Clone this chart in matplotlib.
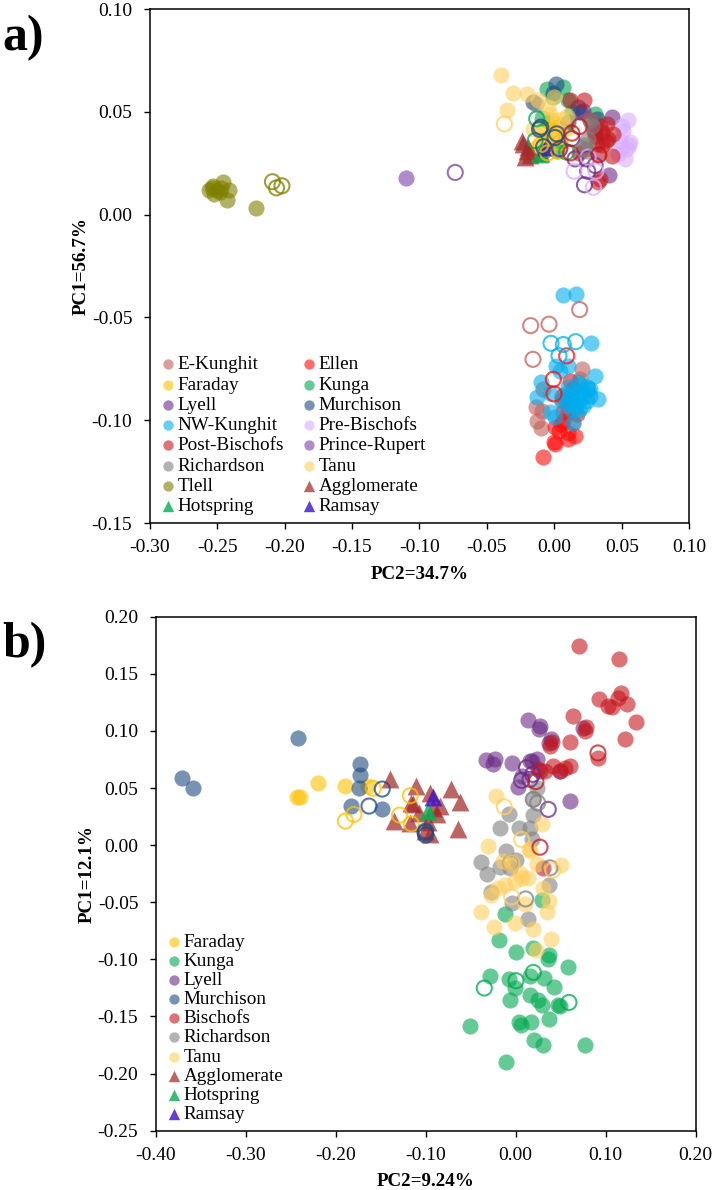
import matplotlib
matplotlib.use("Agg")
import matplotlib.pyplot as plt

plt.rcParams['font.family'] = ['Liberation Serif', 'DejaVu Sans']

# ---------- Panel a: (PC2, PC1) values, filled then open ----------
a_ekunghit = [(-.0137,-.0937),(-.0095,-.0953),(-.0132,-.1002),(-.0102,-.1039),(.0202,-.0751),(.0190,-.0799),(-.0082,-.0848),(.0140,-.1015),(.0100,-.0960),(.0060,-.0900)]
a_ekunghit_o = [(.0187,-.0462),(-.0176,-.0540),(-.0040,-.0533),(-.0159,-.0704)]
a_ellen = [(-.0082,-.1177),(.0003,-.1115),(-.0005,-.1105),(.0103,-.1091),(.0153,-.1075),(.0037,-.1051),(.0004,-.1034),(.0066,-.1002),(.0165,-.0970),(.0116,-.0807),(.0066,-.0961),(.0120,-.0900),(.0060,-.0880),(.0050,-.1020),(.0100,-.1060),(.0140,-.0850)]
a_ellen_o = [(.0091,-.0687),(-.0008,-.0801),(-.0003,-.0872)]
a_faraday = [(-.0040,.0450),(.0000,.0430),(-.0100,.0400),(.0030,.0380),(-.0060,.0370),(-.0130,.0330),(.0050,.0340),(.0090,.0420),(-.0020,.0460),(.0040,.0440)]
a_faraday_o = [(-.0100,.0340),(-.0050,.0300),(.0030,.0310),(.0040,.0350),(-.0020,.0380)]
a_kunga = [(-.0057,.0612),(.0067,.0620),(-.0007,.0571),(.0104,.0555),(.0302,.0490),(.0130,.0500),(-.0090,.0470),(-.0080,.0310),(.0020,.0310)]
a_kunga_o = [(-.0131,.0466),(-.0143,.0360),(.0091,.0304)]
a_lyell = [(.0425,.0474),(.0408,.0193),(.0215,.0503),(.0190,.0500),(.0300,.0400)]
a_lyell_o = [(.0223,.0145),(.0247,.0211),(.0153,.0271),(.0302,.0239),(.0240,.0271),(.0130,.0370),(.0040,.0320)]
a_murchison = [(.0010,.0636),(-.0156,.0547),(.0178,.0522),(.0314,.0466),(-.0010,.0590),(.0100,.0450)]
a_murchison_o = [(-.0101,.0425),(-.0110,.0415),(.0017,.0393),(.0005,.0375),(-.0080,.0330)]
a_nwkunghit = [(.0061,-.0389),(.0160,-.0386),(.0269,-.0623),(.0301,-.0786),(.0326,-.0897),(-.0102,-.0815),(-.0127,-.0888),(.0012,-.0734),(.0103,-.0734),(.0177,-.0815),(.0252,-.0848),(.0264,-.0880),(.0116,-.0888),(.0165,-.0913),(.0215,-.0929),(.0140,-.0856),(.0190,-.0872),(.0091,-.0921),(.0004,-.0986),(-.0033,-.0961),(.0140,-.1015),(.0215,-.0888),(.0153,-.0937),(.0079,-.0872),(.0239,-.0905),(.0264,-.0848),(.0040,-.0760),(-.0030,-.0870),(.0200,-.0830),(.0130,-.0950),(.0240,-.0840),(.0170,-.0890),(.0100,-.0840),(.0060,-.0910),(.0180,-.0950)]
a_nwkunghit_o = [(-.0025,-.0626),(.0066,-.0632),(.0158,-.0618),(.0034,-.0686)]
a_postbischofs = [(.0116,.0558),(.0222,.0555),(.0339,.0433),(.0388,.0441),(.0438,.0393),(.0401,.0368),(.0314,.0344),(.0425,.0287),(.0290,.0409),(.0326,.0295),(.0265,.0458),(.0339,.0174),(.0325,.0160),(.0180,.0300),(.0300,.0380),(.0350,.0340),(.0230,.0320),(.0350,.0400),(.0380,.0360)]
a_postbischofs_o = [(.0185,.0428),(.0130,.0396),(.0120,.0300),(.0330,.0290)]
a_prebischofs = [(.0549,.0458),(.0561,.0352),(.0512,.0409),(.0475,.0295),(.0524,.0271),(.0487,.0360),(.0537,.0320),(.0500,.0430),(.0550,.0340),(.0500,.0330)]
a_prebischofs_o = [(.0146,.0211),(.0289,.0133),(.0307,.0211),(.0250,.0280)]
a_princerupert = [(-.110,.018)]
a_princerupert_o = [(-.0735,.0205)]
a_richardson = [(.0265,.0458),(.0252,.0368),(.0220,.0340),(.0280,.0430),(-.0140,.0540),(.0240,.0310)]
a_richardson_o = [(.0210,.0320)]
a_tanu = [(-.0398,.0681),(-.0309,.0592),(-.0205,.0587),(-.0354,.0509),(-.0119,.0555),(-.0044,.0522),(.0090,.0482),(.0054,.0466),(-.0032,.0490),(-.0156,.0417),(.0042,.0409),(.0000,.0570)]
a_tanu_o = [(-.0371,.0441)]
a_tlell = [(-.256,.012),(-.254,.013),(-.252,.010),(-.250,.012),(-.248,.011),(-.246,.016),(-.243,.007),(-.241,.012),(-.221,.003),(-.253,.014),(-.247,.013)]
a_tlell_o = [(-.209,.016),(-.206,.013),(-.202,.014)]
a_agglomerate = [(-.0242,.0360),(-.0235,.0345),(-.0193,.0328),(-.0218,.0282),(-.0180,.0290),(-.0205,.0310),(-.0100,.0300)]
a_hotspring = [(-.0106,.0295)]
a_ramsay = [(-.0060,.0330)]

# ---------- Panel b ----------
b_faraday = [(-.2429,.042),(-.2399,.042),(-.2197,.054),(-.1893,.0515),(-.1638,.0518)]
b_faraday_o = [(-.1583,.0497),(-.1798,.0269),(-.1893,.0211),(-.1171,.0433),(-.1290,.0263),(-.1160,.0187)]
b_kunga = [(-.0116,-.0602),(-.0182,-.0833),(.0003,-.0936),(.0196,-.0900),(.0370,-.0965),(.0362,-.0997),(.0584,-.1067),(-.0282,-.1149),(-.0071,-.1169),(-.0008,-.1251),(.0159,-.1149),(.0318,-.1164),(.0429,-.1242),(.0159,-.1310),(-.0060,-.1354),(.0251,-.1354),(.0288,-.1403),(.0473,-.1397),(.0492,-.1412),(.0374,-.1520),(.0166,-.1544),(.0041,-.1552),(.0059,-.1573),(-.0508,-.1579),(.0296,-.0476),(-.0108,-.1895),(.0203,-.171),(.0303,-.1754),(.0770,-.1754)]
b_kunga_o = [(-.0349,-.1251),(.0003,-.1187),(.0196,-.1114),(.0592,-.1377)]
b_lyell = [(-.0331,.0746),(-.0231,.0751),(-.0256,.0713),(-.0042,.0722),(.0259,.1015),(.0028,.0509),(.0177,.0737),(.0232,.0751),(.0136,.1096),(.0270,.104),(.0370,.0895),(.0392,.093),(.0604,.0386),(.0748,.1026),(.0492,.065),(.0270,.065),(.0070,.0605),(.0159,.0737)]
b_lyell_o = [(.0121,.0678),(.0066,.0567),(.0159,.0576),(.0362,.0313),(.0188,.062)]
b_murchison = [(-.3711,.059),(-.3585,.05),(-.2424,.0935),(-.1727,.0713),(-.1727,.0611),(-.1738,.0503),(-.1834,.0345),(-.1490,.0319)]
b_murchison_o = [(-.1483,.0491),(-.1630,.0342),(-.1001,.0123),(-.1001,.0088),(-.1007,.0108)]
b_bischofs = [(.0703,.1746),(.1150,.163),(.1170,.133),(.1136,.129),(.1233,.124),(.0925,.128),(.1025,.122),(.1072,.121),(.1334,.108),(.1213,.093),(.0638,.113),(.0779,.103),(.0769,.100),(.0604,.0904),(.0914,.0763),(.0403,.09),(.0380,.087),(.0325,.065),(.0414,.069),(.0492,.065),(.0547,.0675),(.0604,.0693),(.0247,.0667),(.0303,-.0202)]
b_bischofs_o = [(.0914,.0807),(.0270,-.0018),(.0225,.0556)]
b_richardson = [(-.0078,.0269),(-.0175,.0152),(.0040,.0146),(.0159,.0152),(.0195,.026),(.0177,.005),(-.0389,-.0146),(-.0323,-.0251),(-.0174,-.0193),(-.0108,-.0052),(.0003,-.0126),(-.0063,-.0199),(.0370,-.0345),(-.0274,-.0409),(-.0045,-.0503),(.0132,-.0643),(.0195,.04),(.0232,.0503)]
b_richardson_o = [(-.0052,-.0155),(.0110,-.0471),(.0381,-.0199),(.0195,.0401),(.0244,.0370)]
b_tanu = [(-.0304,-.0009),(.0507,-.0178),(.0232,-.0169),(.0152,-.0038),(-.0138,-.0140),(.0066,-.0286),(.0140,-.0286),(-.0119,-.0345),(-.0193,-.0374),(-.0008,-.0316),(.0307,-.0374),(-.0274,-.0433),(.0370,-.0485),(-.0389,-.0585),(.0103,-.0514),(.0344,-.0585),(-.0245,-.0713),(-.0008,-.0684),(.0192,-.0737),(.0389,-.0821),(.0225,-.0915),(-.0063,-.0169),(.0048,-.0243),(-.0224,.0430),(.0295,.0181),(.0159,-.0053)]
b_tanu_o = [(-.0127,.0336),(.0066,.0050),(.0411,-.0219),(-.0045,-.0453),(-.0045,-.0155)]
b_agglomerate = [(-.1397,.0576),(-.1113,.0518),(-.0953,.0459),(-.0723,.0488),(-.0619,.038),(-.1164,.0371),(-.0842,.0342),(-.1138,.0357),(-.1075,.0284),(-.0878,.0269),(-.1353,.0211),(-.1175,.0196),(-.0971,.0205),(-.0953,.0094),(-.0638,.0137),(-.1009,.0123),(-.0916,.0327)]
b_hotspring = [(-.0978,.0298)]
b_ramsay = [(-.0916,.0421)]

# ---------- Styles ----------
C = dict(ekunghit='#C0605A', ellen='#FF0A0A', faraday='#FFC000', kunga='#00A850', lyell='#6A2A85',
         murchison='#1F4A80', nw='#00ADEF', post='#C4161C', pre='#D9AEFF', rupert='#7A3FA5',
         rich='#808080', tanu='#FFCF5E', tlell='#7F7F00', agg='#A32A2A', hot='#00B050', ramsay='#3A10C8')

panel_a = [
    ('E-Kunghit', a_ekunghit, a_ekunghit_o, C['ekunghit']), ('Ellen', a_ellen, a_ellen_o, C['ellen']),
    ('Faraday', a_faraday, a_faraday_o, C['faraday']), ('Kunga', a_kunga, a_kunga_o, C['kunga']),
    ('Lyell', a_lyell, a_lyell_o, C['lyell']), ('Murchison', a_murchison, a_murchison_o, C['murchison']),
    ('NW-Kunghit', a_nwkunghit, a_nwkunghit_o, C['nw']), ('Pre-Bischofs', a_prebischofs, a_prebischofs_o, C['pre']),
    ('Post-Bischofs', a_postbischofs, a_postbischofs_o, C['post']), ('Prince-Rupert', a_princerupert, a_princerupert_o, C['rupert']),
    ('Richardson', a_richardson, a_richardson_o, C['rich']), ('Tanu', a_tanu, a_tanu_o, C['tanu']),
    ('Tlell', a_tlell, a_tlell_o, C['tlell'])]
tri_a = [('Agglomerate', a_agglomerate, C['agg']), ('Hotspring', a_hotspring, C['hot']), ('Ramsay', a_ramsay, C['ramsay'])]

panel_b = [
    ('Faraday', b_faraday, b_faraday_o, C['faraday']), ('Kunga', b_kunga, b_kunga_o, C['kunga']),
    ('Lyell', b_lyell, b_lyell_o, C['lyell']), ('Murchison', b_murchison, b_murchison_o, C['murchison']),
    ('Bischofs', b_bischofs, b_bischofs_o, C['post']), ('Richardson', b_richardson, b_richardson_o, C['rich']),
    ('Tanu', b_tanu, b_tanu_o, C['tanu'])]
tri_b = [('Agglomerate', b_agglomerate, C['agg']), ('Hotspring', b_hotspring, C['hot']), ('Ramsay', b_ramsay, C['ramsay'])]

W, H = 714, 1190
fig = plt.figure(figsize=(W/100, H/100), dpi=100)

def box(l, t, r, b):
    return [l/W, 1-b/H, (r-l)/W, (b-t)/H]

def draw(ax, circles, tris, ncol, spacing):
    hs = {}
    for name, filled, opened, col in circles:
        h = ax.scatter(*zip(*filled), s=135, c=col, alpha=.6, linewidths=0, zorder=3)
        ax.scatter(*zip(*opened), s=118, facecolors='none', edgecolors=col, alpha=.75, linewidths=1.5, zorder=4)
        hs[name] = h
    for name, pts, col in tris:
        hs[name] = ax.scatter(*zip(*pts), s=165, c=col, marker='^', alpha=.72 if name == 'Agglomerate' else .8,
                              linewidths=0, zorder=3.5)
    names = list(hs)
    order = names[0::2] + names[1::2] if ncol == 2 else names
    ax.legend([hs[n] for n in order], order, ncol=ncol, loc='lower left', frameon=False,
              fontsize=13.8, labelspacing=spacing, handlelength=1.0, handletextpad=0.0,
              columnspacing=.8, bbox_to_anchor=(.002, .0), borderaxespad=0, markerscale=.64,
              scatterpoints=1)

def style(ax, xl, yl, xt, yt, xlabel, ylabel):
    ax.set_xlim(*xl); ax.set_ylim(*yl)
    ax.set_xticks(xt); ax.set_yticks(yt)
    ax.set_xticklabels([f'{v:.2f}' for v in xt], fontsize=14)
    ax.set_yticklabels([f'{v:.2f}' for v in yt], fontsize=14)
    ax.tick_params(direction='out', length=4, width=1)
    ax.tick_params(axis='x', pad=7.5)
    ax.tick_params(axis='y', pad=8.5)
    for s in ax.spines.values():
        s.set_linewidth(1.1)
    ax.set_xlabel(xlabel, fontsize=13.7, fontweight='bold', labelpad=7)
    ax.set_ylabel(ylabel, fontsize=13.7, fontweight='bold', labelpad=1)

ax1 = fig.add_axes(box(149.7, 9, 689.3, 523))
draw(ax1, panel_a, tri_a, 2, .15)
style(ax1, (-.30, .10), (-.15, .10), [-.30,-.25,-.20,-.15,-.10,-.05,0,.05,.10],
      [-.15,-.10,-.05,0,.05,.10], 'PC2=34.7%', 'PC1=56.7%')

ax2 = fig.add_axes(box(155.7, 616.7, 695.7, 1130.7))
draw(ax2, panel_b, tri_b, 1, .09)
style(ax2, (-.40, .20), (-.25, .20), [-.40,-.30,-.20,-.10,0,.10,.20],
      [-.25,-.20,-.15,-.10,-.05,0,.05,.10,.15,.20], 'PC2=9.24%', 'PC1=12.1%')

fig.text(2/W, 1-50/H, 'a)', fontsize=36, fontweight='bold', ha='left', va='baseline')
fig.text(2/W, 1-657/H, 'b)', fontsize=36, fontweight='bold', ha='left', va='baseline')

fig.savefig('out.png', dpi=100)
